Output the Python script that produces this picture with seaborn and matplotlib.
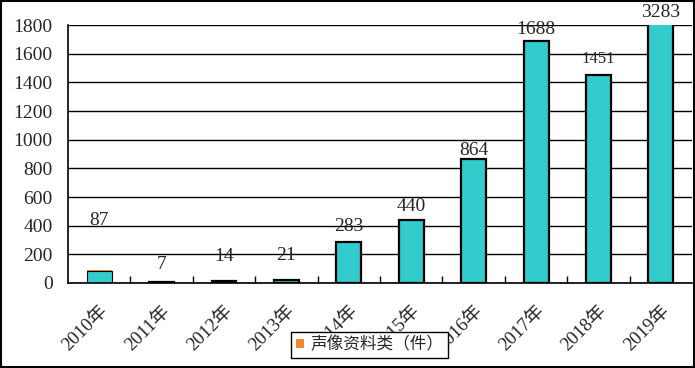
import matplotlib
matplotlib.use("Agg")
import matplotlib.pyplot as plt
import seaborn as sns
import pandas as pd
from matplotlib.patches import Rectangle, Patch

years = ["2010年", "2011年", "2012年", "2013年", "2014年", "2015年", "2016年", "2017年", "2018年", "2019年"]
values = [87, 7, 14, 21, 283, 440, 864, 1688, 1451, 3283]
labels = ["87", "7", "14", "21", "283", "440", "864", "1688", "1451", "3283"]
audio_top = [4, 0, 0, 0, 0, 0, 0, 0, 0, 0]
legend_label = "声像资料类（件）"
yticks = [0, 200, 400, 600, 800, 1000, 1200, 1400, 1600, 1800]

sns.set_theme(style="white")
plt.rcParams['font.family'] = ['Liberation Serif', 'Noto Sans CJK SC']

df = pd.DataFrame({"year": years, "value": values,
                   "total": [v + a for v, a in zip(values, audio_top)]})

fig = plt.figure(figsize=(6.95, 3.68), dpi=100)
ax = fig.add_axes([0.0978, 0.231, 0.898, 0.701])

sns.barplot(data=df, x="year", y="total", color="#F08A32", width=0.4,
            saturation=1, linewidth=0, ax=ax)
n0 = len(ax.patches)
sns.barplot(data=df, x="year", y="value", color="#33CCCC", width=0.4,
            saturation=1, edgecolor="black", linewidth=1.6, ax=ax)
new = ax.patches[n0:]
new[0].set_linewidth(0.8)

ax.set_ylim(0, 1800)
ax.set_xlim(-0.5, len(years) - 0.5)
ax.set_yticks(yticks)
ax.set_yticklabels([str(t) for t in yticks], fontsize=14)
ax.yaxis.grid(True, color="black", linewidth=1)
ax.set_axisbelow(True)
ax.tick_params(axis="y", length=0, pad=11)
ax.set_xlabel("")
ax.set_ylabel("")
for s in ["top", "right"]:
    ax.spines[s].set_visible(False)
for s in ["left", "bottom"]:
    ax.spines[s].set_color("black")
    ax.spines[s].set_linewidth(1.2)

ax.set_xticks(range(len(years)))
ax.set_xticklabels(years, fontsize=13.5, rotation=45, ha="right", va="top",
                   rotation_mode="anchor")
ax.tick_params(axis="x", length=0, pad=14)
ax.set_xticks([i + 0.5 for i in range(len(years) - 1)], minor=True)
ax.tick_params(axis="x", which="minor", direction="in", length=5, width=1, color="black", bottom=True)

offsets_px = [42, 9, 16, 16, 7, 5, 0, 3, 8, 4]
sizes = [14, 14, 14, 14, 14, 14, 14, 14, 12, 14]
for i, (v, lab) in enumerate(zip(values, labels)):
    yv = min(v, 1800)
    ax.annotate(lab, (i, yv), xytext=(0, offsets_px[i] * 0.72), textcoords="offset points",
                ha="center", va="bottom", fontsize=sizes[i], annotation_clip=False)

fig.legend(handles=[Patch(facecolor="#F08A32", edgecolor="none")], labels=[legend_label],
           loc="center", bbox_to_anchor=(0.532, 0.0625), frameon=True,
           fancybox=False, edgecolor="black", framealpha=1,
           prop={"family": ["Noto Sans CJK SC"], "size": 12},
           handlelength=0.5, handleheight=0.5, handletextpad=0.35, borderpad=0.28,
           borderaxespad=0)

fig.patches.append(Rectangle((0.001, 0.002), 0.997, 0.995, transform=fig.transFigure,
                             fill=False, edgecolor="black", linewidth=1.5))

fig.savefig("out.png", dpi=100)
